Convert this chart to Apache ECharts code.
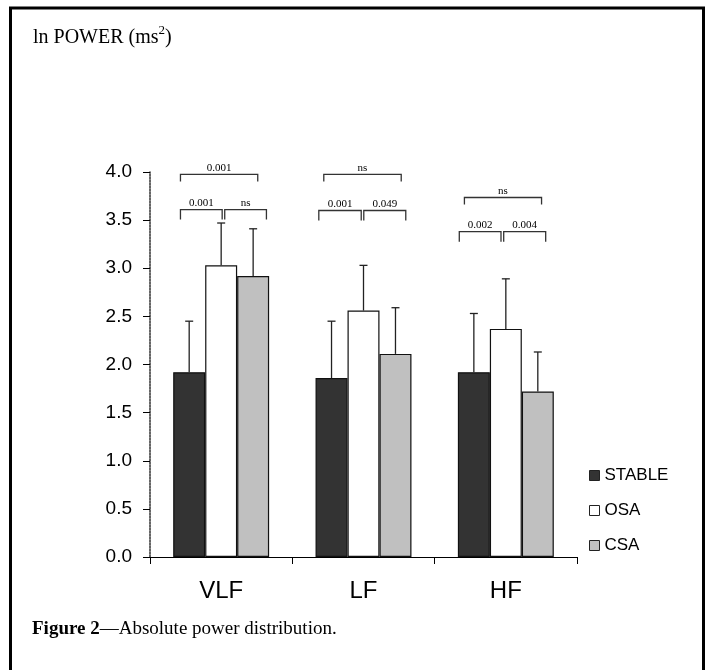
<!DOCTYPE html>
<html>
<head>
<meta charset="utf-8">
<script src="https://cdn.jsdelivr.net/npm/echarts@6/dist/echarts.min.js"></script>
<style>
  html, body { margin: 0; padding: 0; background: #fff; }
  #main { width: 705px; height: 670px; }
</style>
</head>
<body>
<div id="main"></div>
<script>
// data
var categories = ['VLF', 'LF', 'HF'];
var groups = ['STABLE', 'OSA', 'CSA'];
var stableMean = [1.92, 1.86, 1.92];
var osaMean = [3.03, 2.56, 2.37];
var csaMean = [2.92, 2.11, 1.72];
var stableUpper = [2.45, 2.45, 2.53];
var osaUpper = [3.47, 3.03, 2.89];
var csaUpper = [3.41, 2.59, 2.13];

// significance brackets: category, start / end offset (in category widths), level, label
var bracketCat = [0, 0, 0, 1, 1, 1, 2, 2, 2];
var bracketFrom = [-0.286, -0.286, 0.025, -0.279, -0.314, 0.002, -0.291, -0.327, -0.015];
var bracketTo = [0.257, 0.007, 0.318, 0.265, -0.016, 0.297, 0.251, -0.034, 0.28];
var bracketY = [3.975, 3.61, 3.61, 3.975, 3.60, 3.60, 3.735, 3.38, 3.38];
var bracketLabel = ['0.001', '0.001', 'ns', 'ns', '0.001', '0.049', 'ns', '0.002', '0.004'];

var catGap = 0.326;
var means = [stableMean, osaMean, csaMean];
var uppers = [stableUpper, osaUpper, csaUpper];
var colors = ['#333333', '#ffffff', '#c0c0c0'];

var errData = [];
for (var s = 0; s < 3; s++) {
  for (var c = 0; c < categories.length; c++) {
    errData.push([c, uppers[s][c], means[s][c], s]);
  }
}
var brData = [];
for (var b = 0; b < bracketCat.length; b++) {
  brData.push([bracketCat[b], bracketY[b], b]);
}

var myChart = echarts.init(document.getElementById('main'));

var barSeries = groups.map(function (g, i) {
  return {
    name: g,
    type: 'bar',
    data: means[i],
    barGap: 0,
    barCategoryGap: (catGap * 100) + '%',
    itemStyle: { color: colors[i], borderColor: '#111', borderWidth: 1.2 },
    emphasis: { disabled: true }
  };
});

var option = {
  animation: false,
  textStyle: { fontFamily: 'Liberation Sans' },
  title: {
    text: 'ln POWER (ms{sup|2})',
    left: 28,
    top: 19,
    textStyle: {
      fontFamily: 'Liberation Serif',
      fontSize: 20,
      lineHeight: 28,
      fontWeight: 'normal',
      color: '#000',
      rich: {
        sup: { fontFamily: 'Liberation Serif', fontSize: 13, lineHeight: 14, verticalAlign: 'top', color: '#000' }
      }
    }
  },
  legend: {
    data: groups,
    orient: 'vertical',
    left: 584,
    top: 462,
    itemWidth: 10,
    itemHeight: 10,
    itemGap: 18,
    icon: 'rect',
    itemStyle: { borderWidth: 1, borderColor: '#222' },
    textStyle: { fontFamily: 'Liberation Sans', fontSize: 17, color: '#000' }
  },
  grid: { left: 150, right: 128, top: 172, bottom: 113 },
  xAxis: {
    type: 'category',
    data: categories,
    axisLine: { lineStyle: { color: '#000', width: 1.2 } },
    axisTick: { show: true, length: 7, lineStyle: { color: '#000' } },
    axisLabel: { fontSize: 24, color: '#000', margin: 22, fontFamily: 'Liberation Sans' }
  },
  yAxis: {
    type: 'value',
    min: 0,
    max: 4,
    interval: 0.5,
    splitLine: { show: false },
    axisLine: { show: true, lineStyle: { color: '#333', type: [2, 1], width: 1.5 } },
    axisTick: { show: true, length: 7, lineStyle: { color: '#000', type: 'solid' } },
    axisLabel: {
      fontSize: 19, color: '#000', margin: 18, fontFamily: 'Liberation Sans',
      formatter: function (v) { return v.toFixed(1); }
    }
  },
  series: barSeries.concat([
    {
      type: 'custom',
      name: 'err',
      data: errData,
      encode: { x: 0, y: 1 },
      z: 5,
      renderItem: function (params, api) {
        var top = api.coord([api.value(0), api.value(1)]);
        var base = api.coord([api.value(0), api.value(2)]);
        var bw = api.size([1, 0])[0] * (1 - catGap) / 3;
        var x = top[0] + (api.value(3) - 1) * bw;
        var st = { stroke: '#222', lineWidth: 1.3 };
        return {
          type: 'group',
          children: [
            { type: 'line', shape: { x1: x, y1: base[1], x2: x, y2: top[1] }, style: st },
            { type: 'line', shape: { x1: x - 4, y1: top[1], x2: x + 4, y2: top[1] }, style: st }
          ]
        };
      }
    },
    {
      type: 'custom',
      name: 'brackets',
      data: brData,
      encode: { x: 0, y: 1 },
      z: 5,
      renderItem: function (params, api) {
        var i = api.value(2);
        var p = api.coord([api.value(0), api.value(1)]);
        var w = api.size([1, 0])[0];
        var x0 = p[0] + bracketFrom[i] * w;
        var x1 = p[0] + bracketTo[i] * w;
        var drop = (bracketTo[i] - bracketFrom[i]) > 0.4 ? 7 : 10;
        return {
          type: 'group',
          children: [
            {
              type: 'polyline',
              shape: { points: [[x0, p[1] + drop], [x0, p[1]], [x1, p[1]], [x1, p[1] + drop]] },
              style: { stroke: '#333', lineWidth: 1.3, fill: null }
            },
            {
              type: 'text',
              x: (x0 + x1) / 2,
              y: p[1] - 1,
              style: {
                text: bracketLabel[i],
                fontFamily: 'Liberation Serif',
                fontSize: 11,
                fill: '#000',
                align: 'center',
                verticalAlign: 'bottom'
              }
            }
          ]
        };
      }
    }
  ]),
  graphic: [
    {
      type: 'rect',
      shape: { x: 10.5, y: 8, width: 693, height: 700 },
      style: { fill: null, stroke: '#000', lineWidth: 3 },
      silent: true
    },
    {
      type: 'text',
      left: 32,
      top: 620,
      style: {
        text: '{b|Figure 2}—Absolute power distribution.',
        fontFamily: 'Liberation Serif',
        fontSize: 19,
        fill: '#000',
        rich: {
          b: { fontFamily: 'Liberation Serif', fontSize: 19, fontWeight: 'bold', fill: '#000' }
        }
      }
    }
  ]
};

myChart.setOption(option);
window.onresize = function () {
  myChart.resize();
};
</script>
</body>
</html>
